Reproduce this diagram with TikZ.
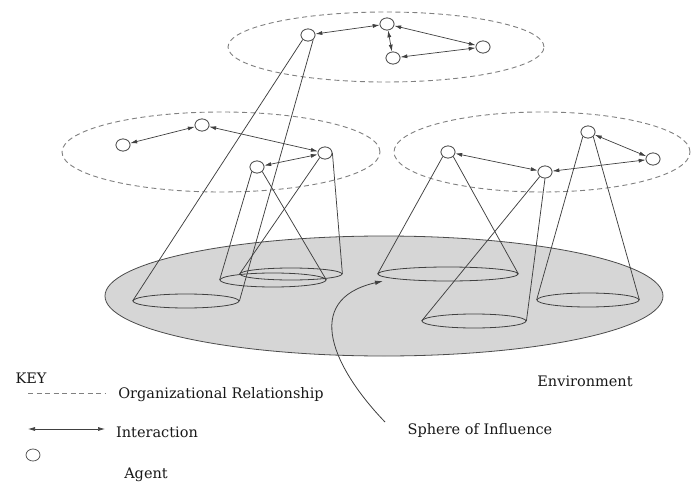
\documentclass[tikz,border=0pt]{standalone}
\usepackage{fontspec}
\setmainfont{DejaVu Serif}
\usetikzlibrary{shapes.geometric,arrows.meta}
\begin{document}
\begin{tikzpicture}[x=1pt,y=-1pt,
  agent/.style={ellipse,draw=black!65,fill=white,line width=0.8pt,minimum width=14pt,minimum height=12pt,inner sep=0pt},
  org/.style={ellipse,draw=black!50,dash pattern=on 5pt off 3.5pt,line width=0.9pt,inner sep=0pt},
  inter/.style={draw=black!75,line width=0.7pt,{Latex[length=7pt,width=4pt]}-{Latex[length=7pt,width=4pt]}},
  conebase/.style={ellipse,draw=black!75,line width=0.8pt,inner sep=0pt},
  coneline/.style={draw=black!75,line width=0.75pt},
  lbl/.style={font=\fontsize{14.5}{16}\selectfont,text=black!90,inner sep=0pt}]

\useasboundingbox (0,0) rectangle (692,486);
\fill[white] (0,0) rectangle (692,486);

% environment
\node[ellipse,draw=black!70,fill=black!16,line width=0.8pt,minimum width=558pt,minimum height=120pt,inner sep=0pt] (env) at (384,296) {};

% cone bases (spheres of influence)
\node[conebase,minimum width=106pt,minimum height=14pt] (baseA) at (186,301) {};
\node[conebase,minimum width=106pt,minimum height=14pt] (baseH) at (273,280) {};
\node[conebase,minimum width=102pt,minimum height=12pt] (baseG) at (291,274) {};
\node[conebase,minimum width=140pt,minimum height=14pt] (baseI) at (448,274) {};
\node[conebase,minimum width=104pt,minimum height=14pt] (baseJ) at (474,321) {};
\node[conebase,minimum width=102pt,minimum height=14pt] (baseK) at (588,300) {};

% organisations
\node[org,minimum width=316pt,minimum height=70pt] (orgT) at (386,47) {};
\node[org,minimum width=318pt,minimum height=80pt] (orgL) at (221,152) {};
\node[org,minimum width=296pt,minimum height=80pt] (orgR) at (542,152) {};

% agents
\node[agent] (A) at (308,35) {};
\node[agent] (B) at (387,24) {};
\node[agent] (C) at (483,47) {};
\node[agent] (D) at (393,58) {};
\node[agent] (E) at (123,145) {};
\node[agent] (F) at (202,125) {};
\node[agent] (G) at (325,153) {};
\node[agent] (H) at (257,167) {};
\node[agent] (I) at (448,152) {};
\node[agent] (J) at (545,172) {};
\node[agent] (K) at (588,132) {};
\node[agent] (L) at (653,159) {};

% cone lines
\draw[coneline] (A.south west) -- (baseA.west);
\draw[coneline] (A.south east) -- (baseA.east);
\draw[coneline] (H.south west) -- (baseH.west);
\draw[coneline] (H.south east) -- (baseH.east);
\draw[coneline] (G.south west) -- (baseG.west);
\draw[coneline] (G.east) -- (baseG.east);
\draw[coneline] (I.south west) -- (baseI.west);
\draw[coneline] (I.south east) -- (baseI.east);
\draw[coneline] (J.south west) -- (baseJ.west);
\draw[coneline] (J.south) -- (baseJ.east);
\draw[coneline] (K.south west) -- (baseK.west);
\draw[coneline] (K.south east) -- (baseK.east);

% interactions
\draw[inter] (A) -- (B);
\draw[inter] (B) -- (C);
\draw[inter] (B) -- (D);
\draw[inter] (D) -- (C);
\draw[inter] (E) -- (F);
\draw[inter] (F) -- (G);
\draw[inter] (G) -- (H);
\draw[inter] (I) -- (J);
\draw[inter] (J) -- (L);
\draw[inter] (K) -- (L);

% redraw agents on top
\foreach \p in {(308,35),(387,24),(483,47),(393,58),(123,145),(202,125),(325,153),(257,167),(448,152),(545,172),(588,132),(653,159)}
  \node[agent] at \p {};

% labels
\node[lbl] (env-l) at (585,381) {Environment};
\node[lbl] (sph-l) at (480,430) {Sphere of Influence};
\coordinate (sph0) at (385,422);
\coordinate (sph1) at (383,281);
\draw[draw=black!75,line width=0.8pt,-{Latex[length=8pt,width=4.5pt]}] (sph0) .. controls (335,370) and (300,300) .. (sph1);

% key
\node[lbl] (key) at (31,378) {KEY};
\coordinate (k1a) at (28,393);
\coordinate (k1b) at (105,393);
\draw[draw=black!50,dash pattern=on 5pt off 3.5pt,line width=0.9pt] (k1a) -- (k1b);
\node[lbl] (k1l) at (221,395) {Organizational Relationship};
\coordinate (k2a) at (28,429);
\coordinate (k2b) at (105,429);
\draw[inter] (k2a) -- (k2b);
\node[lbl] (k2l) at (157,432) {Interaction};
\node[agent] (k3) at (33,455) {};
\node[lbl] (k3l) at (146,475) {Agent};
\end{tikzpicture}
\end{document}
